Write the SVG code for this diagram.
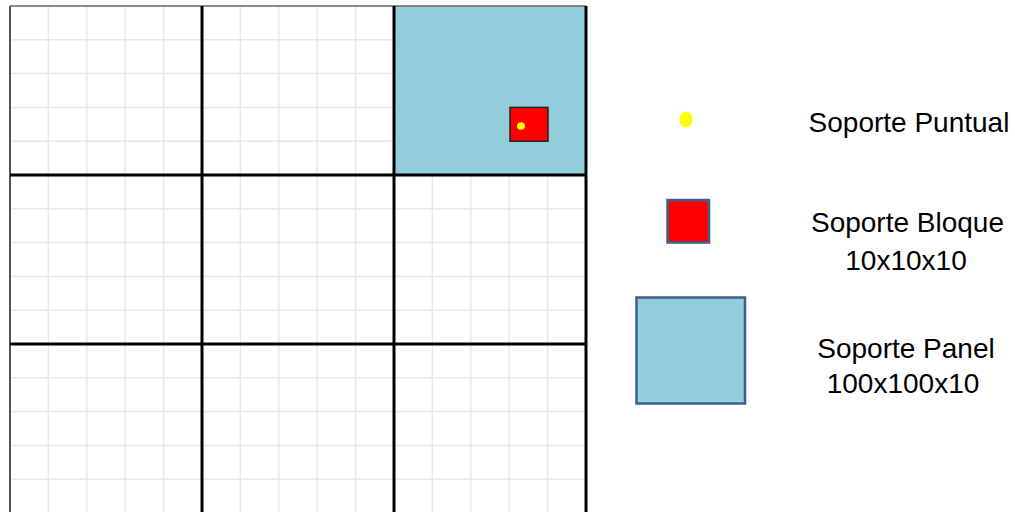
<svg xmlns="http://www.w3.org/2000/svg" width="1015" height="512" viewBox="0 0 1015 512">
<style>
.light{stroke:#e6e8e8;stroke-width:1.5;fill:none}
.thick{stroke:#000;stroke-width:3;fill:none}
.lbl{font-family:"Liberation Sans",Arial,sans-serif;font-size:28px;fill:#000;text-anchor:middle}
</style>
<rect width="1015" height="512" fill="#fff"/>
<g id="grid">
<g class="light">
<path d="M48.4 6V512M86.8 6V512M125.2 6V512M163.6 6V512M240.4 6V512M278.8 6V512M317.2 6V512M355.6 6V512M432.4 6V512M470.8 6V512M509.2 6V512M547.6 6V512"/>
<path d="M10 39.8H586M10 73.6H586M10 107.4H586M10 141.2H586M10 208.8H586M10 242.6H586M10 276.4H586M10 310.2H586M10 377.8H586M10 411.6H586M10 445.4H586M10 479.2H586"/>
</g>
<rect id="panel-cell" x="394" y="6" width="192" height="169" fill="#92cddc"/>
<path d="M10 6H586" stroke="#666" stroke-width="1.5"/>
<path d="M10 6V512" stroke="#555" stroke-width="2"/>
<path class="thick" d="M202 6V512M394 6V512M586 6V512M10 175H587M10 344H587"/>
</g>
<g id="block-in-grid">
<rect x="510" y="107.4" width="38" height="33.8" fill="#ff0000" stroke="#222" stroke-width="1.5"/>
<ellipse cx="521" cy="126" rx="4" ry="3.8" fill="#ffff00"/>
</g>
<g id="legend-puntual">
<ellipse cx="686" cy="119.5" rx="6.5" ry="8" fill="#ffff00"/>
<text class="lbl" x="909" y="132">Soporte Puntual</text>
</g>
<g id="legend-bloque">
<rect x="667.5" y="200" width="41.5" height="42.5" fill="#ff0000" stroke="#3d5f8d" stroke-width="2.5"/>
<text class="lbl" x="907.5" y="232">Soporte Bloque</text>
<text class="lbl" x="906" y="270">10x10x10</text>
</g>
<g id="legend-panel">
<rect x="636.5" y="297.5" width="108.5" height="106" fill="#92cddc" stroke="#3d5f8d" stroke-width="2.5"/>
<text class="lbl" x="906" y="358">Soporte Panel</text>
<text class="lbl" x="903" y="393">100x100x10</text>
</g>
<g id="connectors"></g>
</svg>
